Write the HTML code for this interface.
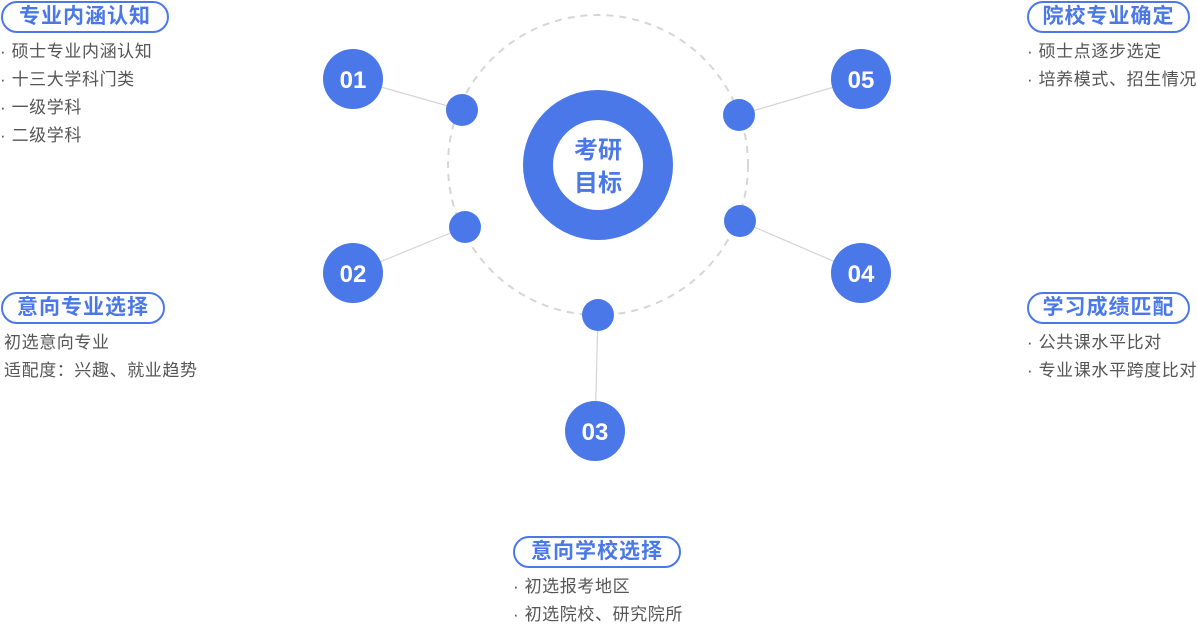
<!DOCTYPE html>
<html><head><meta charset="utf-8"><style>
body{margin:0;width:1197px;height:624px;background:#fff;position:relative;overflow:hidden;font-family:"Liberation Sans","Noto Sans CJK SC",sans-serif}
.pill{position:absolute;height:28px;border:2px solid #4a78e8;border-radius:16px;color:#4a78e8;font-weight:bold;font-size:21px;letter-spacing:1px;line-height:28px;text-align:center;box-sizing:content-box}
.list{position:absolute;color:#555;font-size:17px;letter-spacing:0.6px;line-height:28px;white-space:nowrap}
svg{position:absolute;left:0;top:0}
</style></head><body>
<svg width="1197" height="624">
<circle cx="598" cy="165" r="150" fill="none" stroke="#d6d6d6" stroke-width="2" stroke-dasharray="7 6"/>
<g stroke="#d4d4d4" stroke-width="1.2">
<line x1="353" y1="79" x2="462" y2="110"/>
<line x1="353" y1="273" x2="465" y2="227"/>
<line x1="598" y1="315" x2="595" y2="431"/>
<line x1="861" y1="273" x2="740" y2="221"/>
<line x1="861" y1="79" x2="739" y2="115"/>
</g>
<circle cx="598" cy="165" r="60" fill="none" stroke="#4a78e8" stroke-width="30"/>
<g fill="#4a78e8">
<circle cx="462" cy="110" r="16"/><circle cx="465" cy="227" r="16"/><circle cx="598" cy="315" r="16"/><circle cx="740" cy="221" r="16"/><circle cx="739" cy="115" r="16"/>
<circle cx="353" cy="79" r="30"/><circle cx="353" cy="273" r="30"/><circle cx="595" cy="431" r="30"/><circle cx="861" cy="273" r="30"/><circle cx="861" cy="79" r="30"/>
</g>
<g fill="#fff" font-size="24" font-weight="bold" text-anchor="middle" font-family="Liberation Sans,sans-serif">
<text x="353" y="88">01</text><text x="353" y="282">02</text><text x="595" y="440">03</text><text x="861" y="282">04</text><text x="861" y="88">05</text>
</g>
<g fill="#4a78e8" font-size="24" font-weight="bold" text-anchor="middle" font-family="Noto Sans CJK SC,sans-serif">
<text x="598" y="158">考研</text><text x="598" y="191">目标</text>
</g>
</svg>
<div class="pill" style="left:1px;top:1px;width:164px">专业内涵认知</div>
<div class="list" style="left:0;top:38px">· 硕士专业内涵认知<br>· 十三大学科门类<br>· 一级学科<br>· 二级学科</div>
<div class="pill" style="left:1px;top:292px;width:160px">意向专业选择</div>
<div class="list" style="left:4px;top:329px">初选意向专业<br>适配度：兴趣、就业趋势</div>
<div class="pill" style="left:1027px;top:1px;width:159px">院校专业确定</div>
<div class="list" style="left:1027px;top:38px">· 硕士点逐步选定<br>· 培养模式、招生情况</div>
<div class="pill" style="left:1027px;top:292px;width:159px">学习成绩匹配</div>
<div class="list" style="left:1027px;top:329px">· 公共课水平比对<br>· 专业课水平跨度比对</div>
<div class="pill" style="left:513px;top:536px;width:164px">意向学校选择</div>
<div class="list" style="left:513px;top:573px">· 初选报考地区<br>· 初选院校、研究院所</div>
</body></html>
